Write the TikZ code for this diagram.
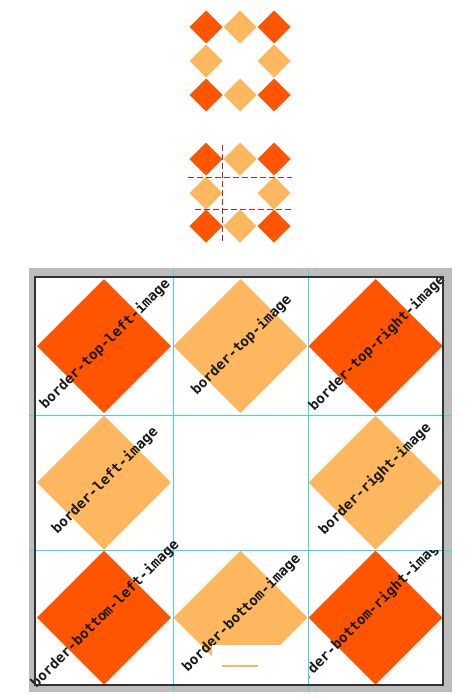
\documentclass[tikz,border=0pt]{standalone}
\usepackage{fontspec}
\newfontfamily\lblfont{DejaVu Sans Mono}
\definecolor{orng}{HTML}{FF5500}
\definecolor{lite}{HTML}{FDB75E}
\definecolor{gridc}{HTML}{3FD8E2}
\definecolor{dashc}{HTML}{C0282D}
\definecolor{framec}{HTML}{BDBDBD}
\newcommand\mydia[4]{\fill[#4] (#1-#3,#2) -- (#1,#2-#3) -- (#1+#3,#2) -- (#1,#2+#3) -- cycle;}
\begin{document}
\begin{tikzpicture}[x=1pt,y=-1pt,
  lbl/.style={font=\lblfont\bfseries\fontsize{14}{14}\selectfont, rotate=45, inner sep=0pt, text=black!90},
  gridline/.style={gridc, line width=1pt},
  cutline/.style={dashc, dash pattern=on 6pt off 3pt, line width=1pt}]
\useasboundingbox (0,0) rectangle (473,699);
% small pattern 1
\mydia{206}{27}{16.5}{orng}
\mydia{240}{27}{16.5}{lite}
\mydia{274}{27}{16.5}{orng}
\mydia{206}{61}{16.5}{lite}
\mydia{274}{61}{16.5}{lite}
\mydia{206}{95}{16.5}{orng}
\mydia{240}{95}{16.5}{lite}
\mydia{274}{95}{16.5}{orng}
% small pattern 2
\mydia{206}{159}{16.5}{orng}
\mydia{240}{159}{16.5}{lite}
\mydia{274}{159}{16.5}{orng}
\mydia{206}{193}{16.5}{lite}
\mydia{274}{193}{16.5}{lite}
\mydia{206}{226}{16.5}{orng}
\mydia{240}{226}{16.5}{lite}
\mydia{274}{226}{16.5}{orng}
\draw[cutline] (222,145) -- (222,243);
\draw[cutline] (188,177) -- (292,177);
\draw[cutline] (195,209) -- (292,209);
% big panel
\fill[framec] (29,268) rectangle (452,692);
\fill[white] (35,277) rectangle (443,685);
\mydia{104}{346}{67}{orng}
\mydia{240.5}{346}{67}{lite}
\mydia{375.5}{346}{67}{orng}
\mydia{104}{482.5}{67}{lite}
\mydia{375.5}{482.5}{67}{lite}
\mydia{104}{617.5}{67}{orng}
\mydia{240.5}{617.5}{67}{lite}
\mydia{375.5}{617.5}{67}{orng}
\draw[gridline] (173,268) -- (173,692);
\draw[gridline] (308,268) -- (308,692);
\draw[gridline] (29,415) -- (452,415);
\draw[gridline] (29,550) -- (452,550);
\node[lbl] (ltl) at (105,344) {border-top-left-image};
\node[lbl] (ltm) at (241.5,345) {border-top-image};
\node[lbl] (ltr) at (377,343) {border-top-right-image};
\node[lbl] (lml) at (105,480.5) {border-left-image};
\node[lbl] (lmr) at (375,479) {border-right-image};
\node[lbl] (lbl) at (105,614) {border-bottom-left-image};
\node[lbl] (lbm) at (241.5,613) {border-bottom-image};
\begin{scope}
\clip (309,550) rectangle (443,685);
\node[lbl] (lbr) at (367,615) {border-bottom-right-image};
\end{scope}
\draw[black!80, line width=1.2pt] (35,277) rectangle (443,685);
\fill[white] (212,645) rectangle (307,684);
\draw[lite, line width=2pt] (222,666) -- (258,666);
\end{tikzpicture}
\end{document}
